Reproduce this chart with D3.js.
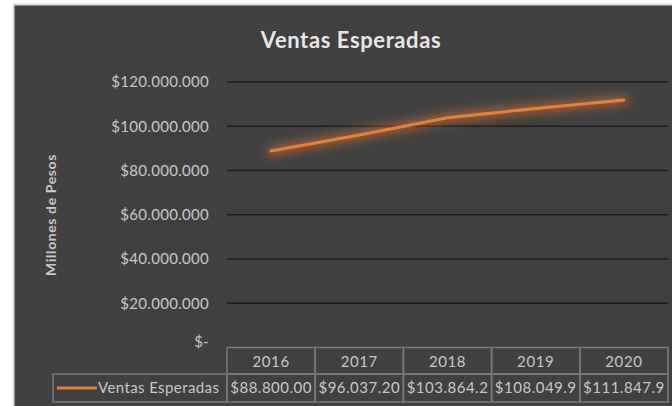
<!DOCTYPE html>
<html>
  <head>
    <title>Ventas Esperadas</title>
    <script src="https://d3js.org/d3.v7.min.js"></script>
    <style type="text/css">
      body {
        margin: 0;
        background: #ffffff;
        font-family: Lato, "Open Sans", sans-serif;
      }
    </style>
  </head>
  <body>
    <script>
      // Data
      var years = ["2016", "2017", "2018", "2019", "2020"];
      var ventas = [88800000, 96037200, 103864200, 108049900, 111847900];
      var ventasLabels = ["$88.800.00", "$96.037.20", "$103.864.2", "$108.049.9", "$111.847.9"];
      var yTicks = [20000000, 40000000, 60000000, 80000000, 100000000, 120000000];
      var yTickLabels = ["$20.000.000", "$40.000.000", "$60.000.000", "$80.000.000", "$100.000.000", "$120.000.000"];
      var seriesName = "Ventas Esperadas";

      var svgWidth = 672;
      var svgHeight = 406;
      var plotLeft = 227;
      var plotRight = 668;
      var plotTop = 82;
      var plotBottom = 347.5;
      var rowHeight = 26.5;
      var textColor = "#c8c8c8";
      var orange = "#ed7d31";

      var svg = d3.select("body")
                  .append("svg")
                  .attr("width", svgWidth)
                  .attr("height", svgHeight);

      // Glow filter for the line
      var defs = svg.append("defs");
      var glow = defs.append("filter")
                     .attr("id", "glow")
                     .attr("x", "-20%").attr("y", "-50%")
                     .attr("width", "140%").attr("height", "200%");
      glow.append("feGaussianBlur")
          .attr("in", "SourceGraphic")
          .attr("stdDeviation", 5);

      // Background panel
      svg.append("rect")
         .attr("x", 13.5).attr("y", 4.5)
         .attr("width", 660).attr("height", 404)
         .attr("fill", "#404040")
         .attr("stroke", "#d9d9d9")
         .attr("stroke-width", 2);

      var xScale = d3.scaleBand()
                     .domain(years)
                     .range([plotLeft, plotRight]);

      var yScale = d3.scaleLinear()
                     .domain([0, 120000000])
                     .range([plotBottom, plotTop]);

      // Title
      svg.append("text")
         .attr("x", 351)
         .attr("y", 48)
         .attr("text-anchor", "middle")
         .attr("font-size", "22px")
         .attr("font-weight", "bold")
         .attr("letter-spacing", "0.6px")
         .attr("fill", "#e6e6e6")
         .text("Ventas Esperadas");

      // Gridlines
      svg.selectAll(".grid")
         .data(yTicks)
         .enter()
         .append("line")
         .attr("class", "grid")
         .attr("x1", plotLeft)
         .attr("x2", plotRight)
         .attr("y1", function(d) { return yScale(d); })
         .attr("y2", function(d) { return yScale(d); })
         .attr("stroke", "#1c1c1c")
         .attr("stroke-width", 1.5);

      // Y axis labels (no axis line)
      var yAxis = d3.axisLeft(yScale)
                    .tickValues([0].concat(yTicks))
                    .tickSize(0)
                    .tickPadding(18)
                    .tickFormat(function(d, i) { return i === 0 ? "$-" : yTickLabels[i - 1]; });

      var yAxisG = svg.append("g")
                      .attr("transform", "translate(" + plotLeft + ",0)")
                      .call(yAxis);
      yAxisG.select(".domain").remove();
      yAxisG.selectAll("text")
            .attr("fill", textColor)
            .attr("font-size", "15px")
            .attr("letter-spacing", "0.3px")
            .attr("font-family", "Lato, sans-serif");
      // the "$-" sits a bit lower, as in Excel
      yAxisG.selectAll("text").filter(function(d) { return d === 0; })
            .attr("dy", "-0.1em");

      // Y axis title
      svg.append("text")
         .attr("transform", "translate(56,215) rotate(-90)")
         .attr("text-anchor", "middle")
         .attr("font-size", "14px")
         .attr("font-weight", "bold")
         .attr("letter-spacing", "0.6px")
         .attr("fill", textColor)
         .text("Millones de Pesos");

      // Line with glow
      var line = d3.line()
                   .x(function(d, i) { return xScale(years[i]) + xScale.bandwidth() / 2; })
                   .y(function(d) { return yScale(d); });

      svg.append("path")
         .datum(ventas)
         .attr("d", line)
         .attr("fill", "none")
         .attr("stroke", orange)
         .attr("stroke-width", 10)
         .attr("stroke-opacity", 0.5)
         .attr("stroke-linecap", "round")
         .attr("filter", "url(#glow)");

      svg.append("path")
         .datum(ventas)
         .attr("d", line)
         .attr("fill", "none")
         .attr("stroke", orange)
         .attr("stroke-width", 3)
         .attr("stroke-linejoin", "round")
         .attr("stroke-linecap", "round");

      // Data table
      var tableColor = "#7a7a7a";
      var legendLeft = 53;

      // header cells
      svg.selectAll(".hcell")
         .data(years)
         .enter()
         .append("rect")
         .attr("class", "hcell")
         .attr("x", function(d) { return xScale(d); })
         .attr("y", plotBottom)
         .attr("width", xScale.bandwidth())
         .attr("height", rowHeight)
         .attr("fill", "none")
         .attr("stroke", tableColor)
         .attr("stroke-width", 1.5);

      svg.selectAll(".htext")
         .data(years)
         .enter()
         .append("text")
         .attr("class", "htext")
         .attr("x", function(d) { return xScale(d) + xScale.bandwidth() / 2; })
         .attr("y", plotBottom + rowHeight / 2 + 6)
         .attr("text-anchor", "middle")
         .attr("font-size", "15px")
         .attr("letter-spacing", "0.6px")
         .attr("fill", textColor)
         .text(function(d) { return d; });

      // value row
      svg.selectAll(".vcell")
         .data(years)
         .enter()
         .append("rect")
         .attr("class", "vcell")
         .attr("x", function(d) { return xScale(d); })
         .attr("y", plotBottom + rowHeight)
         .attr("width", xScale.bandwidth())
         .attr("height", 28)
         .attr("fill", "none")
         .attr("stroke", tableColor)
         .attr("stroke-width", 1.5);

      svg.selectAll(".vtext")
         .data(ventasLabels)
         .enter()
         .append("text")
         .attr("class", "vtext")
         .attr("x", function(d, i) { return xScale(years[i]) + xScale.bandwidth() / 2; })
         .attr("y", plotBottom + rowHeight + 19)
         .attr("text-anchor", "middle")
         .attr("font-size", "15px")
         .attr("letter-spacing", "0.5px")
         .attr("fill", textColor)
         .text(function(d) { return d; });

      // legend cell
      svg.append("rect")
         .attr("x", legendLeft)
         .attr("y", plotBottom + rowHeight)
         .attr("width", plotLeft - legendLeft)
         .attr("height", 28)
         .attr("fill", "none")
         .attr("stroke", tableColor)
         .attr("stroke-width", 1.5);

      svg.append("line")
         .attr("x1", 57).attr("x2", 97)
         .attr("y1", plotBottom + rowHeight + 14)
         .attr("y2", plotBottom + rowHeight + 14)
         .attr("stroke", orange)
         .attr("stroke-width", 3);

      svg.append("text")
         .attr("x", 98)
         .attr("y", plotBottom + rowHeight + 19)
         .attr("font-size", "15px")
         .attr("letter-spacing", "0.4px")
         .attr("fill", textColor)
         .text(seriesName);
    </script>
  </body>
</html>
